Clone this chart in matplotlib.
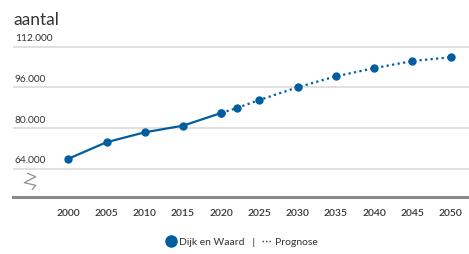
import matplotlib.pyplot as plt
from matplotlib.lines import Line2D

# Inwoners Dijk en Waard (gemeten)
jaren = [2000, 2005, 2010, 2015, 2020]
aantal = [67900, 74400, 78300, 80900, 85900]

# Prognose
prog_jaren = [2020, 2022, 2025, 2030, 2035, 2040, 2045, 2050]
prog_aantal = [85900, 87800, 91000, 96000, 100300, 103500, 106300, 107800]

y_ticks = [64000, 80000, 96000, 112000]
y_labels = ['64.000', '80.000', '96.000', '112.000']
x_ticks = [2000, 2005, 2010, 2015, 2020, 2025, 2030, 2035, 2040, 2045, 2050]

blauw = '#005ea0'
plt.rcParams['font.family'] = ['Lato', 'DejaVu Sans']

fig = plt.figure(figsize=(4.69, 2.54), dpi=100)
ax = fig.add_axes([0.0277, 0.2244, 0.9723, 0.6024])

ax.plot(jaren, aantal, color=blauw, lw=1.6, marker='o', ms=5, zorder=3)
ax.plot(prog_jaren, prog_aantal, color=blauw, lw=1.6, ls=(0, (1, 1.5)),
        marker='o', ms=5, zorder=3)

ax.set_xlim(1992.77, 2052.4)
ax.set_ylim(52880, 113000)

# rasterlijnen + labels boven de lijn
for v, lab in zip(y_ticks, y_labels):
    ax.axhline(v, color='#dddddd', lw=1.3, zorder=1)
    ax.annotate(lab, xy=(0.004, v), xycoords=ax.get_yaxis_transform(),
                xytext=(0, 2.5), textcoords='offset points',
                fontsize=7.3, color='#333333', va='bottom', ha='left')

ax.set_yticks([])
ax.set_xticks(x_ticks)
ax.set_xticklabels([str(x) for x in x_ticks], fontsize=7.5, color='#333333',
                   fontweight='semibold')
ax.tick_params(axis='x', length=0, pad=8.5)

for s in ['top', 'right', 'left']:
    ax.spines[s].set_visible(False)
ax.spines['bottom'].set_color('#8a8a8a')
ax.spines['bottom'].set_linewidth(2.2)

# as-onderbreking
zpx = [(27.7, 173.3), (35.7, 176.7), (24.3, 182.7), (35.7, 185.3), (32.3, 189.3)]
zx = [p[0] / 469 for p in zpx]
zy = [1 - p[1] / 254 for p in zpx]
fig.add_artist(Line2D(zx, zy, color='#909090', lw=0.9, transform=fig.transFigure))

fig.text(13 / 469, 1 - 20 / 254, 'aantal', fontsize=12.5, color='#333333',
         va='center', ha='left')

handles = [
    Line2D([], [], color=blauw, marker='o', ls='none', ms=8),
    Line2D([], [], color='#333333', ls=(0, (1, 1.5)), lw=1),
]
fig.legend(handles, ['Dijk en Waard   |', 'Prognose'], loc='center',
           bbox_to_anchor=(0.516, 0.047), ncol=2, frameon=False, fontsize=7.5,
           handlelength=1.0, handletextpad=0.3, columnspacing=0.6,
           labelcolor='#333333')

fig.savefig('out.png', dpi=100)
